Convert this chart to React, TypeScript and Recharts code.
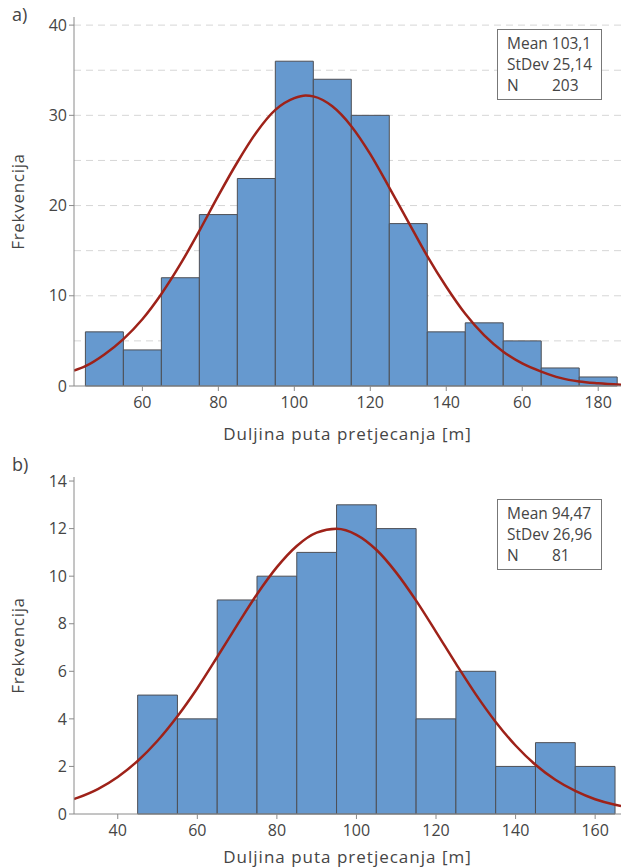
import { CartesianGrid, Line, LineChart, ReferenceArea, XAxis, YAxis } from "recharts";

// histogram a) – bin edges every 10 m, counts
const EDGES_A = [45, 55, 65, 75, 85, 95, 105, 115, 125, 135, 145, 155, 165, 175, 185];
const COUNTS_A = [6, 4, 12, 19, 23, 36, 34, 30, 18, 6, 7, 5, 2, 1];
// fitted curve a)
const CURVE_X_A = [42, 45, 50, 55, 60, 65, 70, 75, 80, 85, 90, 95, 100, 103, 105, 110, 115, 120, 125, 130, 135, 140, 145, 150, 155, 160, 165, 170, 175, 180, 186];
const CURVE_Y_A = [1.7, 2.2, 3.5, 5.2, 7.4, 10.2, 13.5, 17.2, 21.1, 24.8, 28.1, 30.6, 31.9, 32.2, 32.1, 31.0, 28.8, 25.7, 22.0, 18.2, 14.4, 11.0, 8.0, 5.6, 3.8, 2.5, 1.6, 0.9, 0.5, 0.3, 0.14];
const X_TICKS_A = [60, 80, 100, 120, 140, 160, 180];
const X_LABELS_A = ["60", "80", "100", "120", "140", "60", "180"];
const Y_TICKS_A = [0, 10, 20, 30, 40];
const GRID_A = [5, 10, 15, 20, 25, 30, 35, 40];
const STATS_A = [["Mean", "103,1"], ["StDev", "25,14"], ["N", "203"]];

// histogram b)
const EDGES_B = [45, 55, 65, 75, 85, 95, 105, 115, 125, 135, 145, 155, 165];
const COUNTS_B = [5, 4, 9, 10, 11, 13, 12, 4, 6, 2, 3, 2];
const CURVE_X_B = [29, 30, 35, 40, 45, 50, 55, 60, 65, 70, 75, 80, 85, 90, 95, 100, 105, 110, 115, 120, 125, 130, 135, 140, 145, 150, 155, 160, 165, 166.5];
const CURVE_Y_B = [0.63, 0.69, 1.05, 1.56, 2.23, 3.08, 4.11, 5.29, 6.6, 7.94, 9.24, 10.38, 11.27, 11.83, 11.99, 11.74, 11.11, 10.15, 8.97, 7.66, 6.32, 5.03, 3.87, 2.88, 2.07, 1.44, 0.97, 0.62, 0.39, 0.34];
const X_TICKS_B = [40, 60, 80, 100, 120, 140, 160];
const X_LABELS_B = ["40", "60", "80", "100", "120", "140", "160"];
const Y_TICKS_B = [0, 2, 4, 6, 8, 10, 12, 14];
const STATS_B = [["Mean", "94,47"], ["StDev", "26,96"], ["N", "81"]];

const BAR_FILL = "#6699cf";
const BAR_EDGE = "#4d4f55";
const CURVE = "#9e2219";
const AXIS = "#8a8a8a";
const TEXT = "#454545";
const FONT = "'Open Sans', sans-serif";

type PanelProps = {
  tag: string;
  top: number;
  height: number;
  plotTop: number;
  xAxisHeight: number;
  titleOffset: number;
  xDomain: [number, number];
  yDomain: [number, number];
  edges: number[];
  counts: number[];
  curveX: number[];
  curveY: number[];
  xTicks: number[];
  xLabels: string[];
  yTicks: number[];
  grid?: number[];
  stats: string[][];
  statsTop: number;
};

function Panel(p: PanelProps) {
  const data = p.curveX.map((x, i) => ({ x, fit: p.curveY[i] }));
  const tick = { fontSize: 16, fill: TEXT, fontFamily: FONT };
  const title = { fontSize: 17, fill: TEXT, fontFamily: FONT, letterSpacing: 1 };
  return (
    <div style={{ position: "absolute", left: 0, top: p.top, width: 621, height: p.height }}>
      <LineChart width={621} height={p.height} data={data} margin={{ top: p.plotTop, right: 0, bottom: 0, left: 0 }}>
        {p.grid && (
          <CartesianGrid vertical={false} horizontalValues={p.grid} stroke="#d6d6d6" strokeDasharray="7 5" />
        )}
        <XAxis
          dataKey="x"
          type="number"
          domain={p.xDomain}
          allowDataOverflow
          ticks={p.xTicks}
          tickFormatter={(v: number) => p.xLabels[p.xTicks.indexOf(v)] ?? String(v)}
          height={p.xAxisHeight}
          stroke={AXIS}
          tick={tick}
          tickSize={5}
          tickMargin={6}
          label={{
            value: "Duljina puta pretjecanja [m]",
            position: "insideBottom",
            offset: p.titleOffset,
            style: title,
          }}
        />
        <XAxis xAxisId="top" orientation="top" type="number" domain={p.xDomain} height={0} tick={false} tickLine={false} stroke={AXIS} />
        <YAxis
          type="number"
          domain={p.yDomain}
          allowDataOverflow
          ticks={p.yTicks}
          width={74}
          stroke={AXIS}
          tick={tick}
          tickSize={5}
          label={{
            value: "Frekvencija",
            angle: -90,
            position: "insideLeft",
            offset: 18,
            style: { ...title, letterSpacing: 0.7, textAnchor: "middle" },
          }}
        />
        {p.counts.map((c, i) => (
          <ReferenceArea
            key={i}
            x1={p.edges[i]}
            x2={p.edges[i + 1]}
            y1={0}
            y2={c}
            fill={BAR_FILL}
            fillOpacity={1}
            stroke={BAR_EDGE}
            strokeWidth={1}
          />
        ))}
        <Line
          type="monotone"
          dataKey="fit"
          stroke={CURVE}
          strokeWidth={2.5}
          dot={false}
          isAnimationActive={false}
        />
      </LineChart>
      <div style={{ position: "absolute", left: 12, top: 2, fontSize: 18, color: TEXT, fontFamily: FONT }}>{p.tag}</div>
      <div
        style={{
          position: "absolute",
          left: 497,
          top: p.statsTop,
          width: 87,
          height: 65,
          padding: "3px 7px 1px 9px",
          border: "1px solid #777",
          background: "#fff",
          fontFamily: FONT,
          fontSize: 15.5,
          lineHeight: "21px",
          color: TEXT,
          whiteSpace: "nowrap",
        }}
      >
        {p.stats.map(([k, v]) => (
          <div key={k}>
            <span style={{ display: "inline-block", minWidth: k === "N" ? 45 : 0, marginRight: k === "N" ? 0 : 4 }}>{k}</span>
            <span>{v}</span>
          </div>
        ))}
      </div>
    </div>
  );
}

export default function App() {
  return (
    <div style={{ position: "absolute", left: 0, top: 0, width: 621, height: 868, background: "#fff" }}>
      <Panel
        tag="a)"
        top={0}
        height={450}
        plotTop={17}
        xAxisHeight={64}
        titleOffset={10}
        xDomain={[42, 186]}
        yDomain={[0, 40.9]}
        edges={EDGES_A}
        counts={COUNTS_A}
        curveX={CURVE_X_A}
        curveY={CURVE_Y_A}
        xTicks={X_TICKS_A}
        xLabels={X_LABELS_A}
        yTicks={Y_TICKS_A}
        grid={GRID_A}
        stats={STATS_A}
        statsTop={29}
      />
      <Panel
        tag="b)"
        top={450}
        height={418}
        plotTop={27}
        xAxisHeight={54}
        titleOffset={5}
        xDomain={[29, 166.5]}
        yDomain={[0, 14.17]}
        edges={EDGES_B}
        counts={COUNTS_B}
        curveX={CURVE_X_B}
        curveY={CURVE_Y_B}
        xTicks={X_TICKS_B}
        xLabels={X_LABELS_B}
        yTicks={Y_TICKS_B}
        stats={STATS_B}
        statsTop={49}
      />
    </div>
  );
}
